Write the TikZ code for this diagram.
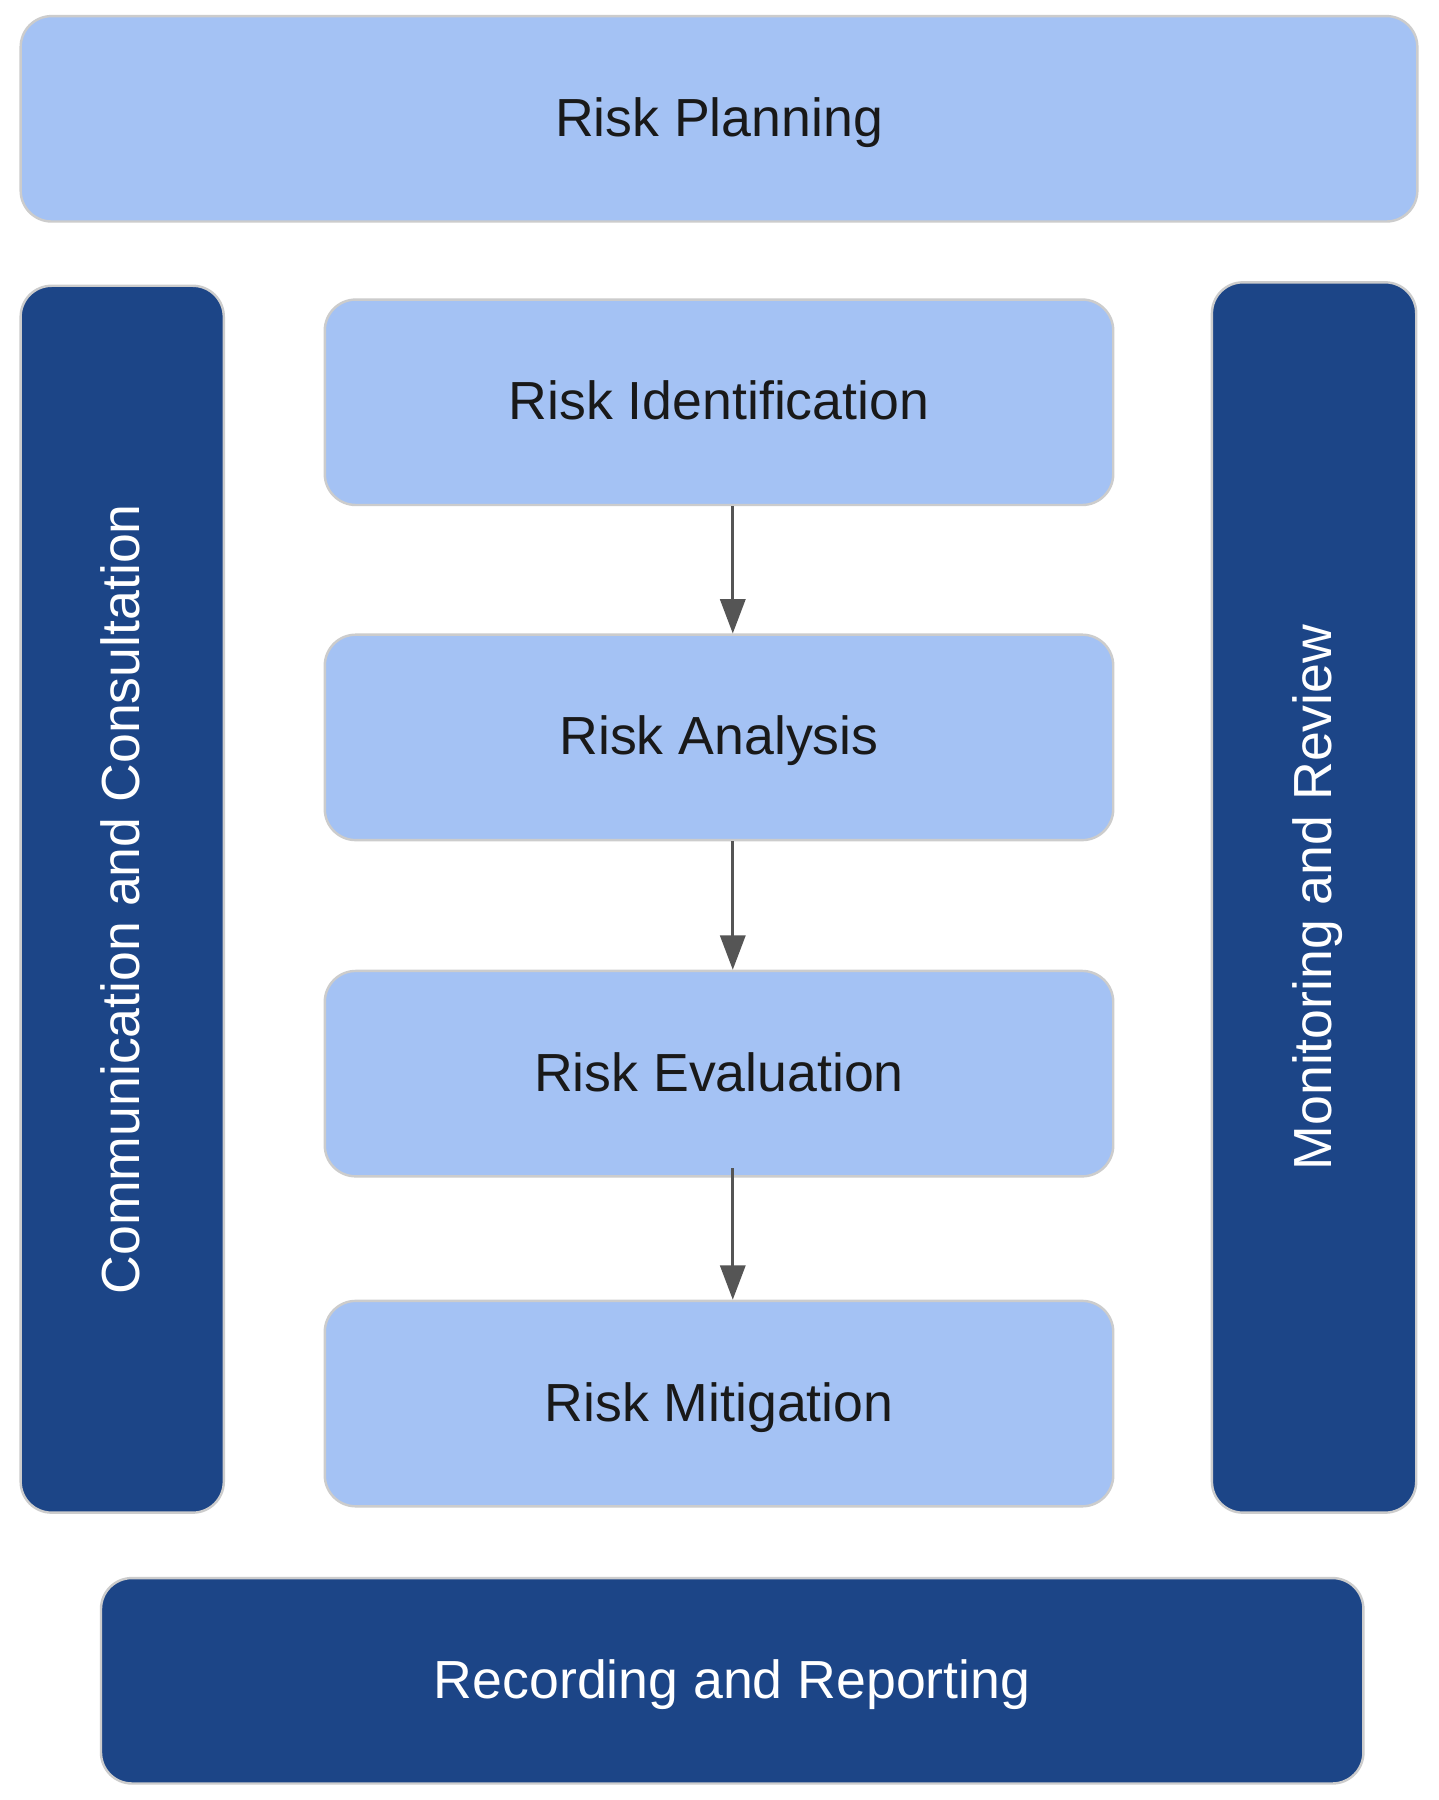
\documentclass[tikz,border=0pt]{standalone}
\usepackage{fontspec}
\setmainfont{Liberation Sans}
\usetikzlibrary{calc,arrows.meta}

\definecolor{lightblue}{HTML}{A4C2F4}
\definecolor{darkblue}{HTML}{1C4587}
\definecolor{rim}{HTML}{CCCCCC}
\definecolor{arrowgray}{HTML}{555555}

\begin{document}
\begin{tikzpicture}[
	box/.style={draw=rim, line width=0.6pt, rounded corners=0.27cm, inner sep=0,
		font=\fontsize{13.3}{16}\selectfont, text height=0.87em, text depth=0pt},
	light/.style={box, fill=lightblue, text=black!90},
	dark/.style={box, fill=darkblue, text=white},
	phase/.style={light, minimum width=6.87cm, minimum height=1.79cm},
	flow/.style={arrowgray, line width=0.7pt}]
	\tikzset{>={Triangle[length=3mm,width=2.2mm]}}
	\fill [white] (0,0) rectangle (12.53,-15.684);
	\useasboundingbox (0,0) rectangle (12.53,-15.684);
	\node [light, minimum width=12.17cm, minimum height=1.79cm] (plan) at (6.265,-1.035) {Risk Planning};
	\node [phase] (ident) at ($(plan) + (0,-2.47)$) {Risk Identification};
	\node [phase] (anal) at ($(ident) + (0,-2.92)$) {Risk Analysis};
	\node [phase] (eval) at ($(anal) + (0,-2.93)$) {Risk Evaluation};
	\node [phase] (miti) at ($(eval) + (0,-2.875)$) {Risk Mitigation};
	\node [dark, rotate=90, minimum width=10.69cm, minimum height=1.77cm] (comm) at (1.065,-7.835) {Communication and Consultation};
	\node [dark, rotate=90, minimum width=10.72cm, minimum height=1.78cm] (mon) at (11.45,-7.82) {Monitoring and Review};
	\node [dark, minimum width=11cm, minimum height=1.79cm] (rec) at ($(miti) + (0.115,-2.415)$) {Recording and Reporting};
	
	\draw [->, flow] ($(ident.south)+(0.12,0)$) -- ($(anal.north)+(0.12,0)$);
	\draw [->, flow] ($(anal.south)+(0.12,0)$) -- ($(eval.north)+(0.12,0)$);
	\draw [->, flow] ($(eval.south)+(0.12,0.08)$) -- ($(miti.north)+(0.12,0)$);
\end{tikzpicture}
\end{document}
